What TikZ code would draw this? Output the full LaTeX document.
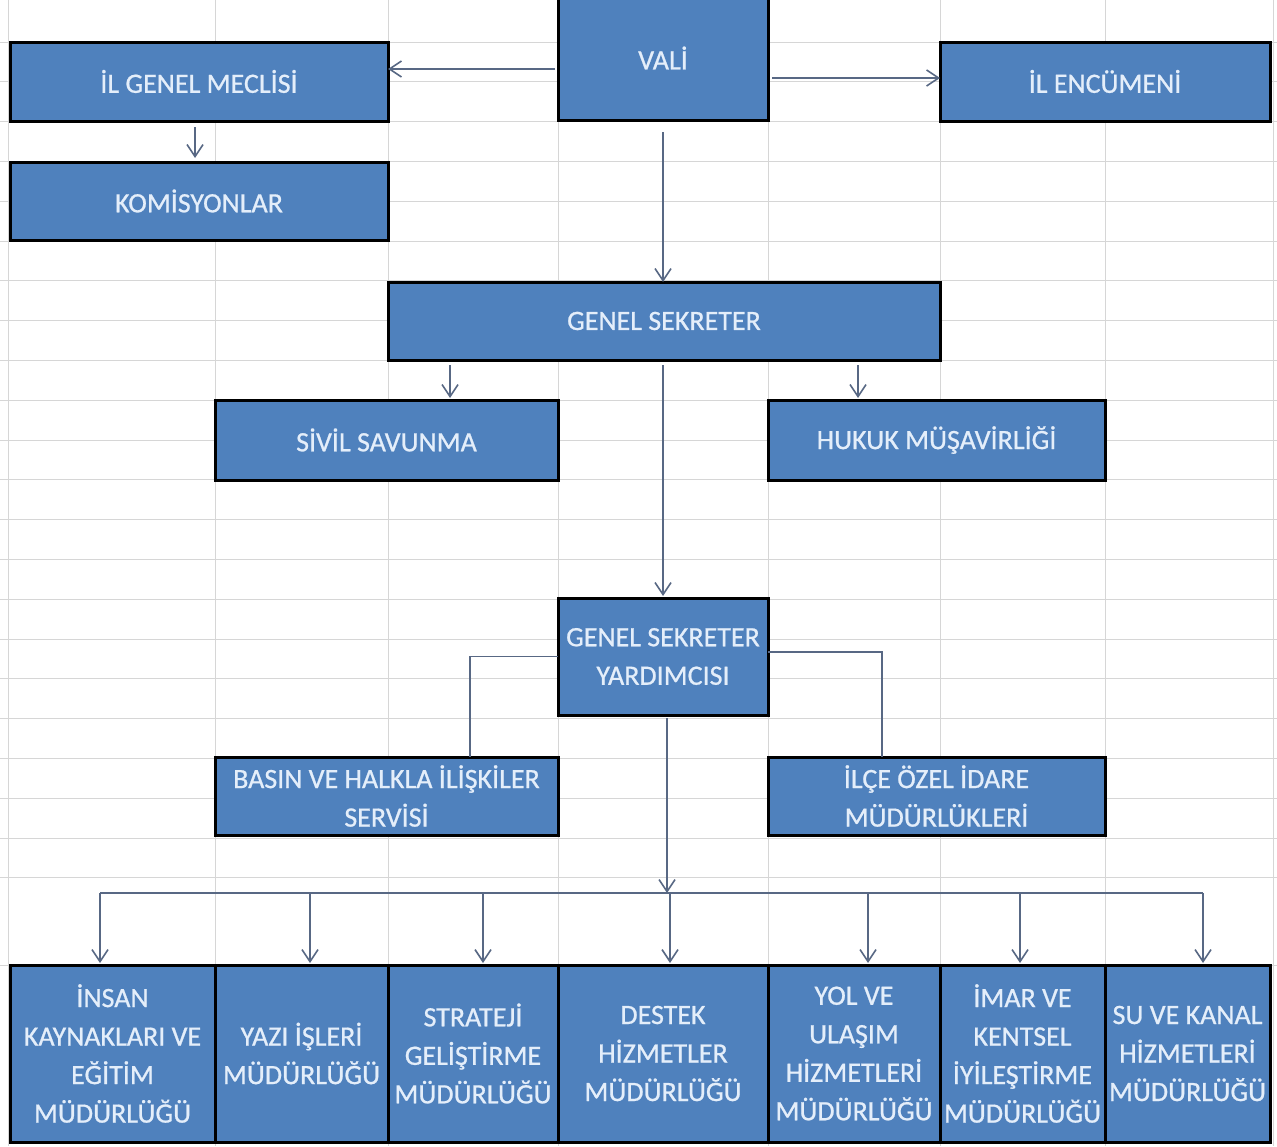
\documentclass[tikz,border=0pt]{standalone}
\usepackage{fontspec}
\setmainfont{Carlito}
\newfontfamily\unitfont[FakeBold=0.8]{Carlito}
\usepackage{xcolor}
\usepackage{tikz}
\usetikzlibrary{arrows.meta}
\usetikzlibrary{calc}
\definecolor{cellgrid}{RGB}{214,214,214}
\definecolor{unitfill}{RGB}{79,129,189}
\definecolor{unittext}{RGB}{228,238,250}
\definecolor{linkcol}{RGB}{88,104,132}
\tikzset{wh/.style 2 args={minimum width=#1,minimum height=#2}}
\tikzstyle{unit}=[draw=black,line width=1.5pt,fill=unitfill,text=unittext,inner sep=0pt,outer sep=0pt,align=center,font=\unitfont\fontsize{14}{19.25}\selectfont]
\tikzstyle{link}=[draw=linkcol,line width=.8pt]
\tikzstyle{lnhead}=[>/.tip={Straight Barb[length=6pt,width=8pt]}]
\tikzstyle{arr}=[link,lnhead,->]

\begin{document}
\begin{tikzpicture}[x=.5pt,y=-.5pt]
	\useasboundingbox[fill=white] (0,0) rectangle (1277,1146);
	\foreach \gx in {8,215,388,558,768,940,1105,1273}
		\draw[cellgrid,line width=.5pt] (\gx,0) -- (\gx,1146);
	\foreach \k in {0,...,21}
		\draw[cellgrid,line width=.5pt] (0,42+39.8*\k) -- (1277,42+39.8*\k);
	\draw[cellgrid,line width=.5pt] (0,965) -- (1277,965);

	\node[unit,wh={105pt}{62pt}]    (vali)     at (663,58)     {VALİ};
	\node[unit,wh={189pt}{39.5pt}]  (meclis)   at (199,81.5)   {İL GENEL MECLİSİ};
	\node[unit,wh={165pt}{39.5pt}]  (encumen)  at (1105,81.5)  {İL ENCÜMENİ};
	\node[unit,wh={189pt}{39pt}]    (komisyon) at (199,201)    {KOMİSYONLAR};
	\node[unit,wh={276pt}{39pt}]    (gs)       at (664,321)    {GENEL SEKRETER};
	\node[unit,wh={171.5pt}{40pt}]  (sivil)    at (386.5,440)  {SİVİL SAVUNMA};
	\node[unit,wh={168.5pt}{40pt}]  (hukuk)    at (936.5,440)  {HUKUK MÜŞAVİRLİĞİ};
	\node[unit,wh={105pt}{58.5pt}]  (gsy)      at (663,656.5)  {GENEL SEKRETER\\YARDIMCISI};
	\node[unit,wh={171.5pt}{39pt}]  (basin)    at (386.5,796)  {BASIN VE HALKLA İLİŞKİLER\\SERVİSİ};
	\node[unit,wh={168.5pt}{39pt}]  (ilce)     at (936.5,796)  {İLÇE ÖZEL İDARE\\MÜDÜRLÜKLERİ};

	\node[unit,wh={102.5pt}{88.5pt}] (b1) at (112.5,1053.5)  {İNSAN\\KAYNAKLARI VE\\EĞİTİM\\MÜDÜRLÜĞÜ};
	\node[unit,wh={86.5pt}{88.5pt}]  (b2) at (301.5,1053.5)  {YAZI İŞLERİ\\MÜDÜRLÜĞÜ};
	\node[unit,wh={85pt}{88.5pt}]    (b3) at (473,1053.5)    {STRATEJİ\\GELİŞTİRME\\MÜDÜRLÜĞÜ};
	\node[unit,wh={105pt}{88.5pt}]   (b4) at (663,1053.5)    {DESTEK\\HİZMETLER\\MÜDÜRLÜĞÜ};
	\node[unit,wh={86pt}{88.5pt}]    (b5) at (854,1053.5)    {YOL VE\\ULAŞIM\\HİZMETLERİ\\MÜDÜRLÜĞÜ};
	\node[unit,wh={82.5pt}{88.5pt}]  (b6) at (1022.5,1053.5) {İMAR VE\\KENTSEL\\İYİLEŞTİRME\\MÜDÜRLÜĞÜ};
	\node[unit,wh={82.5pt}{88.5pt}]  (b7) at (1187.5,1053.5) {SU VE KANAL\\HİZMETLERİ\\MÜDÜRLÜĞÜ};

	\coordinate (vw) at ([yshift=-5.5pt]vali.west);
	\coordinate (ve) at ([yshift=-10pt]vali.east);
	\coordinate (ms) at ([xshift=-2pt]meclis.south);
	\draw[arr,shorten <=1.5pt] (vw) -- (vw -| meclis.east);
	\draw[arr,shorten <=2pt] (ve) -- (ve -| encumen.west);
	\draw[arr,shorten <=3pt,shorten >=2pt] (ms) -- (ms |- komisyon.north);
	\draw[arr,shorten <=6pt] (vali.south) -- (vali.south |- gs.north);

	\coordinate (sv) at ([xshift=31.75pt]sivil.north);
	\coordinate (hk) at ([xshift=-39.25pt]hukuk.north);
	\draw[arr,shorten <=2.5pt,shorten >=1pt] (sv |- gs.south) -- (sv);
	\draw[arr,shorten <=2.5pt,shorten >=1pt] (hk |- gs.south) -- (hk);
	\draw[arr,shorten <=2.5pt,shorten >=1pt] (gs.south -| gsy.north) -- (gsy.north);

	\coordinate (bs) at ([xshift=41.75pt]basin.north);
	\coordinate (ic) at ([xshift=-27.25pt]ilce.north);
	\draw[link] (gsy.west) -| (bs);
	\draw[link] ([yshift=2.25pt]gsy.east) -| (ic);

	\coordinate (bus) at ([xshift=2pt,yshift=-89pt]gsy.south);
	\draw[arr,shorten <=1.5pt] ([xshift=2pt]gsy.south) -- (bus);
	\coordinate (d1) at ([xshift=-6.25pt]b1.north);
	\coordinate (d2) at ([xshift=4.25pt]b2.north);
	\coordinate (d3) at ([xshift=5pt]b3.north);
	\coordinate (d4) at ([xshift=3.5pt]b4.north);
	\coordinate (d5) at ([xshift=7pt]b5.north);
	\coordinate (d6) at ([xshift=-1.25pt]b6.north);
	\coordinate (d7) at ([xshift=7.75pt]b7.north);
	\draw[link] (d1 |- bus) -- (d7 |- bus);
	\foreach \i in {1,...,7}
		\draw[arr,shorten >=1pt] (d\i |- bus) -- (d\i);
\end{tikzpicture}
\end{document}
